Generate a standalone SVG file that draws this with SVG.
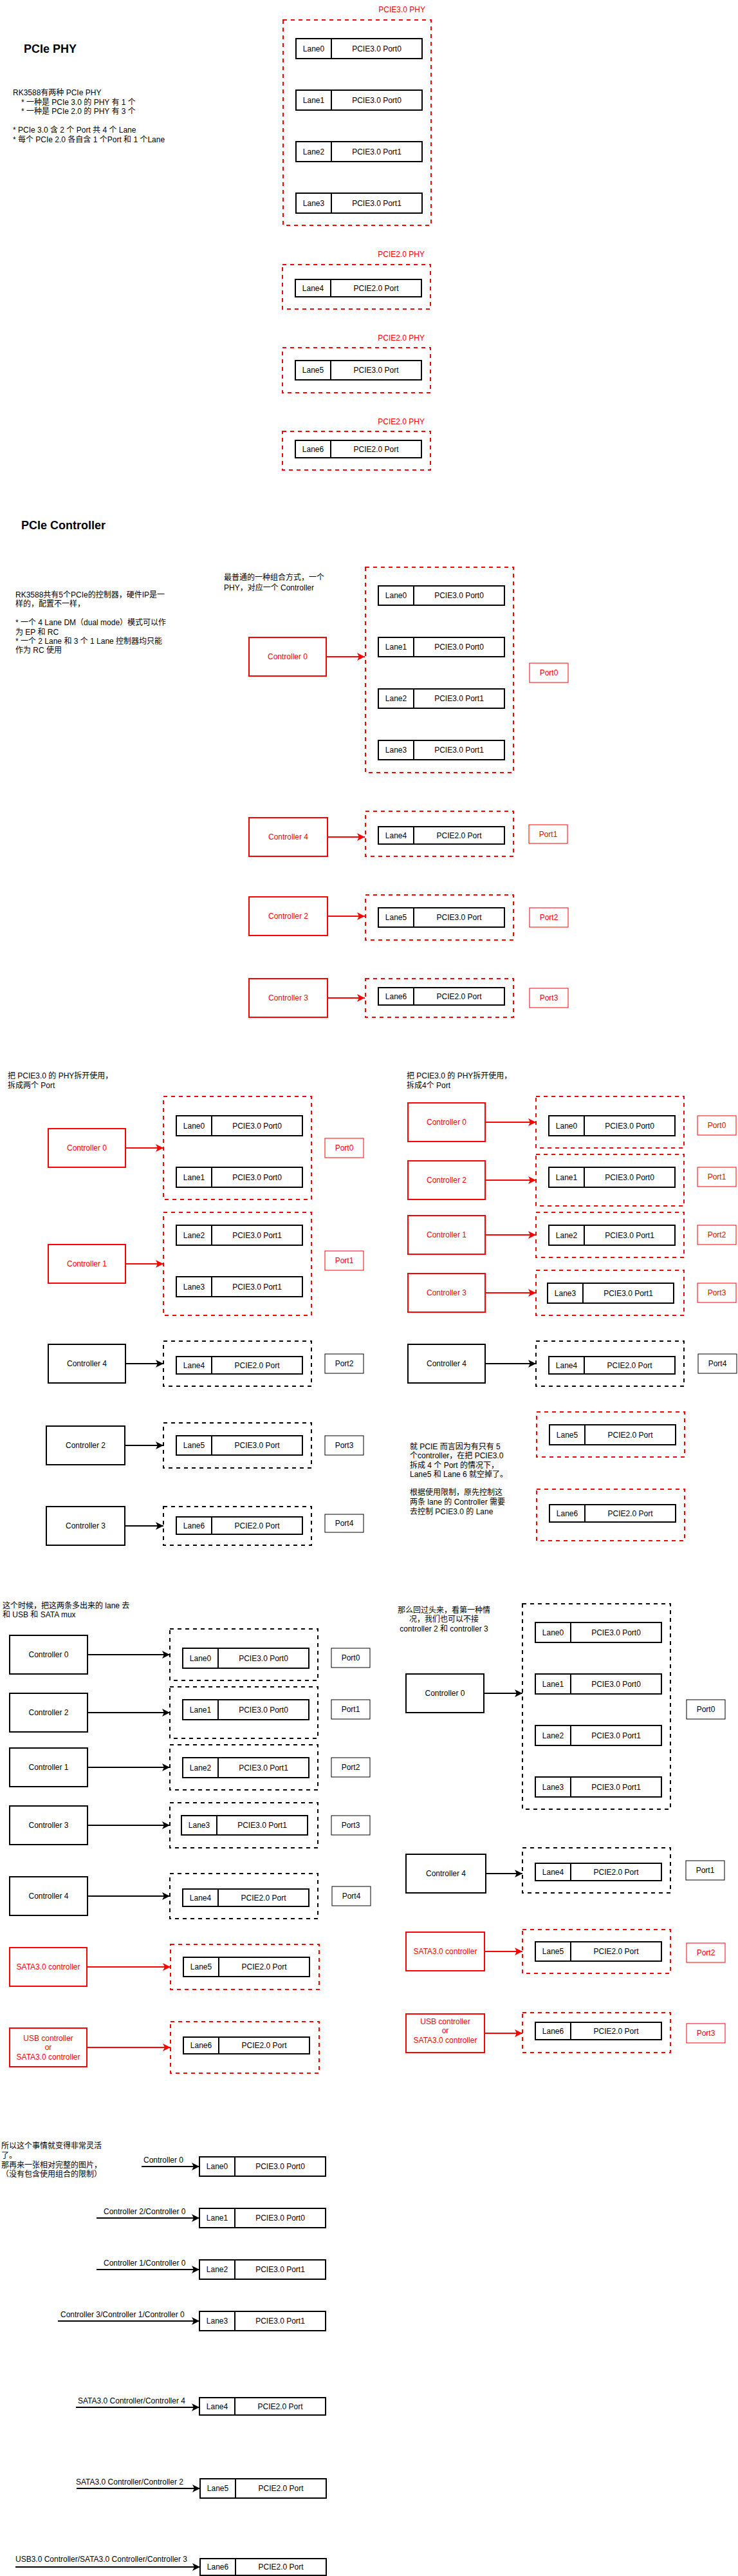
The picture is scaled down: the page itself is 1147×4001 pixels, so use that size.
<svg xmlns="http://www.w3.org/2000/svg" width="1147" height="4001" viewBox="0 0 1147 4001">
<defs>
<style>
.t{font-family:"Liberation Sans","Noto Sans CJK SC",sans-serif;font-size:12px;fill:#000}
.h{font-family:"Liberation Sans","Noto Sans CJK SC",sans-serif;font-size:18px;font-weight:bold;fill:#000}
.c{text-anchor:middle}
.e{text-anchor:end}
.r{fill:#f00}
.lr{fill:#fff;stroke:#000;stroke-width:2}
.ld{stroke:#000;stroke-width:2}
.dr{fill:none;stroke:#f00;stroke-width:2;stroke-dasharray:6 6}
.dk{fill:none;stroke:#000;stroke-width:2;stroke-dasharray:6 6}
.cr{fill:#fff;stroke:#f00;stroke-width:2}
.ck{fill:#fff;stroke:#000;stroke-width:2}
.pr{fill:#fff;stroke:#f00;stroke-width:1}
.pk{fill:#fff;stroke:#000;stroke-width:1}
.ar{fill:none;stroke:#f00;stroke-width:2;marker-end:url(#mr)}
.ak{fill:none;stroke:#000;stroke-width:2;marker-end:url(#mk)}
.hl{fill:#f6f6f6}
</style>
<marker id="mr" markerUnits="userSpaceOnUse" markerWidth="12" markerHeight="12" refX="12" refY="6" orient="auto"><path d="M0,0 L12,6 L0,12 L3,6 Z" fill="#f00"/></marker>
<marker id="mk" markerUnits="userSpaceOnUse" markerWidth="12" markerHeight="12" refX="12" refY="6" orient="auto"><path d="M0,0 L12,6 L0,12 L3,6 Z" fill="#000"/></marker>
</defs>
<rect width="1147" height="4001" fill="#fff"/>

<!-- ============ SECTION 1: PCIe PHY ============ -->
<g id="s1">
<text class="h" x="37" y="82">PCIe PHY</text>
<g id="s1-notes">
<text class="t" x="20" y="148">RK3588有两种 PCIe PHY</text>
<text class="t" x="33" y="162.5">* 一种是 PCIe 3.0 的 PHY 有 1 个</text>
<text class="t" x="33" y="177">* 一种是 PCIe 2.0 的 PHY 有 3 个</text>
<text class="t" x="20" y="206">* PCIe 3.0 含 2 个 Port 共 4 个 Lane</text>
<text class="t" x="20" y="220.5">* 每个 PCIe 2.0 各自含 1 个Port 和 1 个Lane</text>
</g>
<g id="s1-phy30">
<text class="t e r" x="661" y="19">PCIE3.0 PHY</text>
<rect class="dr" x="440" y="31" width="230" height="319"/>
<g id="s1-lane0" transform="translate(460,60)"><rect class="lr" width="196" height="31"/><line class="ld" x1="55" y1="0" x2="55" y2="31"/><text class="t c" x="27.5" y="19.5">Lane0</text><text class="t c" x="125.5" y="19.5">PCIE3.0 Port0</text></g>
<g id="s1-lane1" transform="translate(460,140)"><rect class="lr" width="196" height="31"/><line class="ld" x1="55" y1="0" x2="55" y2="31"/><text class="t c" x="27.5" y="19.5">Lane1</text><text class="t c" x="125.5" y="19.5">PCIE3.0 Port0</text></g>
<g id="s1-lane2" transform="translate(460,220)"><rect class="lr" width="196" height="31"/><line class="ld" x1="55" y1="0" x2="55" y2="31"/><text class="t c" x="27.5" y="19.5">Lane2</text><text class="t c" x="125.5" y="19.5">PCIE3.0 Port1</text></g>
<g id="s1-lane3" transform="translate(460,300)"><rect class="lr" width="196" height="31"/><line class="ld" x1="55" y1="0" x2="55" y2="31"/><text class="t c" x="27.5" y="19.5">Lane3</text><text class="t c" x="125.5" y="19.5">PCIE3.0 Port1</text></g>
</g>
<g id="s1-phy20a">
<text class="t e r" x="660" y="399">PCIE2.0 PHY</text>
<rect class="dr" x="439" y="411" width="230" height="69"/>
<g id="s1-lane4" transform="translate(459,434)"><rect class="lr" width="196" height="27"/><line class="ld" x1="55" y1="0" x2="55" y2="27"/><text class="t c" x="27.5" y="17.5">Lane4</text><text class="t c" x="125.5" y="17.5">PCIE2.0 Port</text></g>
</g>
<g id="s1-phy20b">
<text class="t e r" x="660" y="529">PCIE2.0 PHY</text>
<rect class="dr" x="439" y="540" width="230" height="70"/>
<g id="s1-lane5" transform="translate(459,560)"><rect class="lr" width="196" height="30"/><line class="ld" x1="55" y1="0" x2="55" y2="30"/><text class="t c" x="27.5" y="19">Lane5</text><text class="t c" x="125.5" y="19">PCIE3.0 Port</text></g>
</g>
<g id="s1-phy20c">
<text class="t e r" x="660" y="659">PCIE2.0 PHY</text>
<rect class="dr" x="439" y="670" width="230" height="60"/>
<g id="s1-lane6" transform="translate(459,684)"><rect class="lr" width="196" height="27"/><line class="ld" x1="55" y1="0" x2="55" y2="27"/><text class="t c" x="27.5" y="17.5">Lane6</text><text class="t c" x="125.5" y="17.5">PCIE2.0 Port</text></g>
</g>
</g>

<!-- ============ SECTION 2: PCIe Controller ============ -->
<g id="s2">
<text class="h" x="33" y="822">PCIe Controller</text>
<g id="s2-notes">
<text class="t" x="24" y="928">RK3588共有5个PCIe的控制器，硬件IP是一</text>
<text class="t" x="24" y="942">样的，配置不一样，</text>
<text class="t" x="24" y="971">* 一个 4 Lane DM（dual mode）模式可以作</text>
<text class="t" x="24" y="985.5">为 EP 和 RC</text>
<text class="t" x="24" y="1000">* 一个 2 Lane 和 3 个 1 Lane 控制器均只能</text>
<text class="t" x="24" y="1014">作为 RC 使用</text>
</g>
<g id="s2-caption">
<text class="t" x="348" y="901">最普通的一种组合方式，一个</text>
<text class="t" x="348" y="917">PHY，对应一个 Controller</text>
</g>
<g id="s2-phy30">
<rect class="dr" x="568" y="881" width="230" height="319"/>
<g id="s2-lane0" transform="translate(588,910)"><rect class="lr" width="196" height="30"/><line class="ld" x1="55" y1="0" x2="55" y2="30"/><text class="t c" x="27.5" y="19">Lane0</text><text class="t c" x="125.5" y="19">PCIE3.0 Port0</text></g>
<g id="s2-lane1" transform="translate(588,990)"><rect class="lr" width="196" height="30"/><line class="ld" x1="55" y1="0" x2="55" y2="30"/><text class="t c" x="27.5" y="19">Lane1</text><text class="t c" x="125.5" y="19">PCIE3.0 Port0</text></g>
<g id="s2-lane2" transform="translate(588,1070)"><rect class="lr" width="196" height="30"/><line class="ld" x1="55" y1="0" x2="55" y2="30"/><text class="t c" x="27.5" y="19">Lane2</text><text class="t c" x="125.5" y="19">PCIE3.0 Port1</text></g>
<g id="s2-lane3" transform="translate(588,1150)"><rect class="lr" width="196" height="30"/><line class="ld" x1="55" y1="0" x2="55" y2="30"/><text class="t c" x="27.5" y="19">Lane3</text><text class="t c" x="125.5" y="19">PCIE3.0 Port1</text></g>
</g>
<g id="s2-ctrl0"><rect class="cr" x="387" y="990" width="120" height="60"/><text class="t c r" x="447" y="1024">Controller 0</text></g>
<g id="s2-port0"><rect class="pr" x="823" y="1030" width="60" height="30"/><text class="t c r" x="853" y="1049">Port0</text></g>
<g id="s2-phy20a">
<rect class="dr" x="568" y="1260" width="230" height="70"/>
<g id="s2-lane4" transform="translate(588,1284)"><rect class="lr" width="196" height="27"/><line class="ld" x1="55" y1="0" x2="55" y2="27"/><text class="t c" x="27.5" y="17.5">Lane4</text><text class="t c" x="125.5" y="17.5">PCIE2.0 Port</text></g>
</g>
<g id="s2-ctrl4"><rect class="cr" x="387" y="1270" width="122" height="60"/><text class="t c r" x="448" y="1304">Controller 4</text></g>
<g id="s2-port1"><rect class="pr" x="822" y="1281" width="60" height="29"/><text class="t c r" x="852" y="1299.5">Port1</text></g>
<g id="s2-phy20b">
<rect class="dr" x="568" y="1390" width="230" height="70"/>
<g id="s2-lane5" transform="translate(588,1410)"><rect class="lr" width="196" height="30"/><line class="ld" x1="55" y1="0" x2="55" y2="30"/><text class="t c" x="27.5" y="19">Lane5</text><text class="t c" x="125.5" y="19">PCIE3.0 Port</text></g>
</g>
<g id="s2-ctrl2"><rect class="cr" x="387" y="1393" width="122" height="60"/><text class="t c r" x="448" y="1427">Controller 2</text></g>
<g id="s2-port2"><rect class="pr" x="823" y="1410" width="60" height="30"/><text class="t c r" x="853" y="1429">Port2</text></g>
<g id="s2-phy20c">
<rect class="dr" x="568" y="1520" width="230" height="60"/>
<g id="s2-lane6" transform="translate(588,1534)"><rect class="lr" width="196" height="27"/><line class="ld" x1="55" y1="0" x2="55" y2="27"/><text class="t c" x="27.5" y="17.5">Lane6</text><text class="t c" x="125.5" y="17.5">PCIE2.0 Port</text></g>
</g>
<g id="s2-ctrl3"><rect class="cr" x="387" y="1520" width="122" height="60"/><text class="t c r" x="448" y="1554">Controller 3</text></g>
<g id="s2-port3"><rect class="pr" x="823" y="1535" width="60" height="30"/><text class="t c r" x="853" y="1554">Port3</text></g>
</g>

<!-- ============ SECTION 3 LEFT ============ -->
<g id="s3l">
<g id="s3l-caption">
<text class="t" x="12" y="1675">把 PCIE3.0 的 PHY拆开使用，</text>
<text class="t" x="12" y="1690">拆成两个 Port</text>
</g>
<g id="s3l-boxA">
<rect class="dr" x="254" y="1703" width="230" height="160"/>
<g id="s3l-lane0" transform="translate(274,1733)"><rect class="lr" width="196" height="31"/><line class="ld" x1="55" y1="0" x2="55" y2="31"/><text class="t c" x="27.5" y="19.5">Lane0</text><text class="t c" x="125.5" y="19.5">PCIE3.0 Port0</text></g>
<g id="s3l-lane1" transform="translate(274,1813)"><rect class="lr" width="196" height="31"/><line class="ld" x1="55" y1="0" x2="55" y2="31"/><text class="t c" x="27.5" y="19.5">Lane1</text><text class="t c" x="125.5" y="19.5">PCIE3.0 Port0</text></g>
</g>
<g id="s3l-ctrl0"><rect class="cr" x="75" y="1753" width="120" height="60"/><text class="t c r" x="135" y="1787">Controller 0</text></g>
<g id="s3l-port0"><rect class="pr" x="505" y="1768" width="60" height="30"/><text class="t c r" x="535" y="1787">Port0</text></g>
<g id="s3l-boxB">
<rect class="dr" x="254" y="1883" width="230" height="160"/>
<g id="s3l-lane2" transform="translate(274,1903)"><rect class="lr" width="196" height="31"/><line class="ld" x1="55" y1="0" x2="55" y2="31"/><text class="t c" x="27.5" y="19.5">Lane2</text><text class="t c" x="125.5" y="19.5">PCIE3.0 Port1</text></g>
<g id="s3l-lane3" transform="translate(274,1983)"><rect class="lr" width="196" height="31"/><line class="ld" x1="55" y1="0" x2="55" y2="31"/><text class="t c" x="27.5" y="19.5">Lane3</text><text class="t c" x="125.5" y="19.5">PCIE3.0 Port1</text></g>
</g>
<g id="s3l-ctrl1"><rect class="cr" x="75" y="1933" width="120" height="60"/><text class="t c r" x="135" y="1967">Controller 1</text></g>
<g id="s3l-port1"><rect class="pr" x="505" y="1943" width="60" height="30"/><text class="t c r" x="535" y="1962">Port1</text></g>
<g id="s3l-boxC">
<rect class="dk" x="254" y="2083" width="230" height="70"/>
<g id="s3l-lane4" transform="translate(274,2107)"><rect class="lr" width="196" height="27"/><line class="ld" x1="55" y1="0" x2="55" y2="27"/><text class="t c" x="27.5" y="17.5">Lane4</text><text class="t c" x="125.5" y="17.5">PCIE2.0 Port</text></g>
</g>
<g id="s3l-ctrl4"><rect class="ck" x="75" y="2088" width="120" height="60"/><text class="t c" x="135" y="2122">Controller 4</text></g>
<g id="s3l-port2"><rect class="pk" x="505" y="2103" width="60" height="30"/><text class="t c" x="535" y="2122">Port2</text></g>
<g id="s3l-boxD">
<rect class="dk" x="254" y="2210" width="230" height="70"/>
<g id="s3l-lane5" transform="translate(274,2230)"><rect class="lr" width="196" height="30"/><line class="ld" x1="55" y1="0" x2="55" y2="30"/><text class="t c" x="27.5" y="19">Lane5</text><text class="t c" x="125.5" y="19">PCIE3.0 Port</text></g>
</g>
<g id="s3l-ctrl2"><rect class="ck" x="72" y="2215" width="122" height="60"/><text class="t c" x="133" y="2249">Controller 2</text></g>
<g id="s3l-port3"><rect class="pk" x="505" y="2230" width="60" height="30"/><text class="t c" x="535" y="2249">Port3</text></g>
<g id="s3l-boxE">
<rect class="dk" x="254" y="2340" width="230" height="60"/>
<g id="s3l-lane6" transform="translate(274,2356)"><rect class="lr" width="196" height="27"/><line class="ld" x1="55" y1="0" x2="55" y2="27"/><text class="t c" x="27.5" y="17.5">Lane6</text><text class="t c" x="125.5" y="17.5">PCIE2.0 Port</text></g>
</g>
<g id="s3l-ctrl3"><rect class="ck" x="72" y="2340" width="122" height="60"/><text class="t c" x="133" y="2374">Controller 3</text></g>
<g id="s3l-port4"><rect class="pk" x="505" y="2352" width="60" height="28"/><text class="t c" x="535" y="2370">Port4</text></g>
</g>

<!-- ============ SECTION 3 RIGHT ============ -->
<g id="s3r">
<g id="s3r-caption">
<text class="t" x="632" y="1675">把 PCIE3.0 的 PHY拆开使用，</text>
<text class="t" x="632" y="1690">拆成4个 Port</text>
</g>
<g id="s3r-ctrl0"><rect class="cr" x="634" y="1713" width="120" height="60"/><text class="t c r" x="694" y="1747">Controller 0</text></g>
<g id="s3r-boxA"><rect class="dr" x="833" y="1703" width="230" height="80"/>
<g id="s3r-lane0" transform="translate(853,1733)"><rect class="lr" width="196" height="31"/><line class="ld" x1="55" y1="0" x2="55" y2="31"/><text class="t c" x="27.5" y="19.5">Lane0</text><text class="t c" x="125.5" y="19.5">PCIE3.0 Port0</text></g></g>
<g id="s3r-port0"><rect class="pr" x="1084" y="1733" width="60" height="30"/><text class="t c r" x="1114" y="1752">Port0</text></g>
<g id="s3r-ctrl2"><rect class="cr" x="634" y="1803" width="120" height="60"/><text class="t c r" x="694" y="1837">Controller 2</text></g>
<g id="s3r-boxB"><rect class="dr" x="833" y="1793" width="230" height="80"/>
<g id="s3r-lane1" transform="translate(853,1813)"><rect class="lr" width="196" height="31"/><line class="ld" x1="55" y1="0" x2="55" y2="31"/><text class="t c" x="27.5" y="19.5">Lane1</text><text class="t c" x="125.5" y="19.5">PCIE3.0 Port0</text></g></g>
<g id="s3r-port1"><rect class="pr" x="1084" y="1813" width="60" height="30"/><text class="t c r" x="1114" y="1832">Port1</text></g>
<g id="s3r-ctrl1"><rect class="cr" x="634" y="1888" width="120" height="60"/><text class="t c r" x="694" y="1922">Controller 1</text></g>
<g id="s3r-boxC"><rect class="dr" x="833" y="1883" width="230" height="70"/>
<g id="s3r-lane2" transform="translate(853,1903)"><rect class="lr" width="196" height="31"/><line class="ld" x1="55" y1="0" x2="55" y2="31"/><text class="t c" x="27.5" y="19.5">Lane2</text><text class="t c" x="125.5" y="19.5">PCIE3.0 Port1</text></g></g>
<g id="s3r-port2"><rect class="pr" x="1084" y="1903" width="60" height="30"/><text class="t c r" x="1114" y="1922">Port2</text></g>
<g id="s3r-ctrl3"><rect class="cr" x="634" y="1978" width="120" height="60"/><text class="t c r" x="694" y="2012">Controller 3</text></g>
<g id="s3r-boxD"><rect class="dr" x="833" y="1973" width="230" height="70"/>
<g id="s3r-lane3" transform="translate(851,1993)"><rect class="lr" width="196" height="31"/><line class="ld" x1="55" y1="0" x2="55" y2="31"/><text class="t c" x="27.5" y="19.5">Lane3</text><text class="t c" x="125.5" y="19.5">PCIE3.0 Port1</text></g></g>
<g id="s3r-port3"><rect class="pr" x="1084" y="1993" width="60" height="30"/><text class="t c r" x="1114" y="2012">Port3</text></g>
<g id="s3r-ctrl4"><rect class="ck" x="634" y="2088" width="120" height="60"/><text class="t c" x="694" y="2122">Controller 4</text></g>
<g id="s3r-boxE"><rect class="dk" x="833" y="2083" width="230" height="70"/>
<g id="s3r-lane4" transform="translate(853,2107)"><rect class="lr" width="196" height="27"/><line class="ld" x1="55" y1="0" x2="55" y2="27"/><text class="t c" x="27.5" y="17.5">Lane4</text><text class="t c" x="125.5" y="17.5">PCIE2.0 Port</text></g></g>
<g id="s3r-port4"><rect class="pk" x="1085" y="2103" width="60" height="30"/><text class="t c" x="1115" y="2122">Port4</text></g>
<g id="s3r-boxF"><rect class="dr" x="834" y="2193" width="230" height="70"/>
<g id="s3r-lane5" transform="translate(854,2213)"><rect class="lr" width="196" height="31"/><line class="ld" x1="55" y1="0" x2="55" y2="31"/><text class="t c" x="27.5" y="19.5">Lane5</text><text class="t c" x="125.5" y="19.5">PCIE2.0 Port</text></g></g>
<g id="s3r-boxG"><rect class="dr" x="834" y="2313" width="230" height="80"/>
<g id="s3r-lane6" transform="translate(854,2337)"><rect class="lr" width="196" height="27"/><line class="ld" x1="55" y1="0" x2="55" y2="27"/><text class="t c" x="27.5" y="17.5">Lane6</text><text class="t c" x="125.5" y="17.5">PCIE2.0 Port</text></g></g>
<g id="s3r-note1">
<rect class="hl" x="636" y="2240" width="143" height="14"/>
<rect class="hl" x="636" y="2254" width="147" height="15"/>
<rect class="hl" x="636" y="2269" width="139" height="14"/>
<rect class="hl" x="636" y="2283" width="153" height="15"/>
<text class="t" x="637" y="2251">就 PCIE 而言因为有只有 5</text>
<text class="t" x="637" y="2265.3">个controller，在把 PCIE3.0</text>
<text class="t" x="637" y="2279.6">拆成 4 个 Port 的情况下，</text>
<text class="t" x="637" y="2294">Lane5 和 Lane 6 就空掉了。</text>
</g>
<g id="s3r-note2">
<text class="t" x="637" y="2322">根据使用限制，原先控制这</text>
<text class="t" x="637" y="2337">两条 lane 的 Controller 需要</text>
<text class="t" x="637" y="2352">去控制 PCIE3.0 的 Lane</text>
</g>
</g>

<!-- ============ SECTION 4 LEFT ============ -->
<g id="s4l">
<g id="s4l-caption">
<rect class="hl" x="3" y="2487" width="198" height="14"/>
<text class="t" x="4" y="2498">这个时候，把这两条多出来的 lane 去</text>
<text class="t" x="4" y="2512">和 USB 和 SATA mux</text>
</g>
<g id="s4l-ctrl0"><rect class="ck" x="15" y="2540" width="121" height="60"/><text class="t c" x="75.5" y="2574">Controller 0</text></g>
<g id="s4l-boxA"><rect class="dk" x="264" y="2530" width="230" height="80"/>
<g id="s4l-lane0" transform="translate(284,2560)"><rect class="lr" width="196" height="31"/><line class="ld" x1="55" y1="0" x2="55" y2="31"/><text class="t c" x="27.5" y="19.5">Lane0</text><text class="t c" x="125.5" y="19.5">PCIE3.0 Port0</text></g></g>
<g id="s4l-port0"><rect class="pk" x="515" y="2560" width="60" height="30"/><text class="t c" x="545" y="2579">Port0</text></g>
<g id="s4l-ctrl2"><rect class="ck" x="15" y="2630" width="121" height="60"/><text class="t c" x="75.5" y="2664">Controller 2</text></g>
<g id="s4l-boxB"><rect class="dk" x="264" y="2620" width="230" height="80"/>
<g id="s4l-lane1" transform="translate(284,2640)"><rect class="lr" width="196" height="31"/><line class="ld" x1="55" y1="0" x2="55" y2="31"/><text class="t c" x="27.5" y="19.5">Lane1</text><text class="t c" x="125.5" y="19.5">PCIE3.0 Port0</text></g></g>
<g id="s4l-port1"><rect class="pk" x="515" y="2640" width="60" height="30"/><text class="t c" x="545" y="2659">Port1</text></g>
<g id="s4l-ctrl1"><rect class="ck" x="15" y="2715" width="121" height="60"/><text class="t c" x="75.5" y="2749">Controller 1</text></g>
<g id="s4l-boxC"><rect class="dk" x="264" y="2710" width="230" height="70"/>
<g id="s4l-lane2" transform="translate(284,2730)"><rect class="lr" width="196" height="31"/><line class="ld" x1="55" y1="0" x2="55" y2="31"/><text class="t c" x="27.5" y="19.5">Lane2</text><text class="t c" x="125.5" y="19.5">PCIE3.0 Port1</text></g></g>
<g id="s4l-port2"><rect class="pk" x="515" y="2730" width="60" height="30"/><text class="t c" x="545" y="2749">Port2</text></g>
<g id="s4l-ctrl3"><rect class="ck" x="15" y="2805" width="121" height="60"/><text class="t c" x="75.5" y="2839">Controller 3</text></g>
<g id="s4l-boxD"><rect class="dk" x="264" y="2800" width="230" height="70"/>
<g id="s4l-lane3" transform="translate(282,2820)"><rect class="lr" width="196" height="30"/><line class="ld" x1="55" y1="0" x2="55" y2="30"/><text class="t c" x="27.5" y="19">Lane3</text><text class="t c" x="125.5" y="19">PCIE3.0 Port1</text></g></g>
<g id="s4l-port3"><rect class="pk" x="515" y="2820" width="60" height="30"/><text class="t c" x="545" y="2839">Port3</text></g>
<g id="s4l-ctrl4"><rect class="ck" x="15" y="2915" width="121" height="60"/><text class="t c" x="75.5" y="2949">Controller 4</text></g>
<g id="s4l-boxE"><rect class="dk" x="264" y="2910" width="230" height="70"/>
<g id="s4l-lane4" transform="translate(284,2934)"><rect class="lr" width="196" height="27"/><line class="ld" x1="55" y1="0" x2="55" y2="27"/><text class="t c" x="27.5" y="17.5">Lane4</text><text class="t c" x="125.5" y="17.5">PCIE2.0 Port</text></g></g>
<g id="s4l-port4"><rect class="pk" x="516" y="2930" width="60" height="30"/><text class="t c" x="546" y="2949">Port4</text></g>
<g id="s4l-sata"><rect class="cr" x="15" y="3025" width="120" height="60"/><text class="t c r" x="75" y="3059">SATA3.0 controller</text></g>
<g id="s4l-boxF"><rect class="dr" x="265" y="3020" width="231" height="70"/>
<g id="s4l-lane5" transform="translate(285,3040)"><rect class="lr" width="196" height="30"/><line class="ld" x1="55" y1="0" x2="55" y2="30"/><text class="t c" x="27.5" y="19">Lane5</text><text class="t c" x="125.5" y="19">PCIE2.0 Port</text></g></g>
<g id="s4l-usb"><rect class="cr" x="15" y="3150" width="120" height="60"/><text class="t c r" x="75" y="3170">USB controller</text><text class="t c r" x="75" y="3184">or</text><text class="t c r" x="75" y="3199">SATA3.0 controller</text></g>
<g id="s4l-boxG"><rect class="dr" x="265" y="3140" width="231" height="80"/>
<g id="s4l-lane6" transform="translate(285,3164)"><rect class="lr" width="196" height="26"/><line class="ld" x1="55" y1="0" x2="55" y2="26"/><text class="t c" x="27.5" y="17">Lane6</text><text class="t c" x="125.5" y="17">PCIE2.0 Port</text></g></g>
</g>

<!-- ============ SECTION 4 RIGHT ============ -->
<g id="s4r">
<g id="s4r-caption">
<text class="t c" x="690" y="2505">那么回过头来，看第一种情</text>
<text class="t c" x="690" y="2519">况，我们也可以不接</text>
<text class="t c" x="690" y="2534">controller 2 和 controller 3</text>
</g>
<g id="s4r-phy30"><rect class="dk" x="812" y="2491" width="230" height="319"/>
<g id="s4r-lane0" transform="translate(832,2520)"><rect class="lr" width="196" height="31"/><line class="ld" x1="55" y1="0" x2="55" y2="31"/><text class="t c" x="27.5" y="19.5">Lane0</text><text class="t c" x="125.5" y="19.5">PCIE3.0 Port0</text></g>
<g id="s4r-lane1" transform="translate(832,2600)"><rect class="lr" width="196" height="31"/><line class="ld" x1="55" y1="0" x2="55" y2="31"/><text class="t c" x="27.5" y="19.5">Lane1</text><text class="t c" x="125.5" y="19.5">PCIE3.0 Port0</text></g>
<g id="s4r-lane2" transform="translate(832,2680)"><rect class="lr" width="196" height="31"/><line class="ld" x1="55" y1="0" x2="55" y2="31"/><text class="t c" x="27.5" y="19.5">Lane2</text><text class="t c" x="125.5" y="19.5">PCIE3.0 Port1</text></g>
<g id="s4r-lane3" transform="translate(832,2760)"><rect class="lr" width="196" height="31"/><line class="ld" x1="55" y1="0" x2="55" y2="31"/><text class="t c" x="27.5" y="19.5">Lane3</text><text class="t c" x="125.5" y="19.5">PCIE3.0 Port1</text></g>
</g>
<g id="s4r-ctrl0"><rect class="ck" x="631" y="2600" width="121" height="60"/><text class="t c" x="691.5" y="2634">Controller 0</text></g>
<g id="s4r-port0"><rect class="pk" x="1067" y="2640" width="60" height="30"/><text class="t c" x="1097" y="2659">Port0</text></g>
<g id="s4r-ctrl4"><rect class="ck" x="631" y="2880" width="124" height="60"/><text class="t c" x="693" y="2914">Controller 4</text></g>
<g id="s4r-boxE"><rect class="dk" x="812" y="2870" width="230" height="70"/>
<g id="s4r-lane4" transform="translate(832,2894)"><rect class="lr" width="196" height="27"/><line class="ld" x1="55" y1="0" x2="55" y2="27"/><text class="t c" x="27.5" y="17.5">Lane4</text><text class="t c" x="125.5" y="17.5">PCIE2.0 Port</text></g></g>
<g id="s4r-port1"><rect class="pk" x="1066" y="2890" width="60" height="30"/><text class="t c" x="1096" y="2909">Port1</text></g>
<g id="s4r-sata"><rect class="cr" x="631" y="3001" width="122" height="60"/><text class="t c r" x="692" y="3035">SATA3.0 controller</text></g>
<g id="s4r-boxF"><rect class="dr" x="812" y="2997" width="230" height="68"/>
<g id="s4r-lane5" transform="translate(832,3016)"><rect class="lr" width="196" height="30"/><line class="ld" x1="55" y1="0" x2="55" y2="30"/><text class="t c" x="27.5" y="19">Lane5</text><text class="t c" x="125.5" y="19">PCIE2.0 Port</text></g></g>
<g id="s4r-port2"><rect class="pr" x="1067" y="3018" width="60" height="30"/><text class="t c r" x="1097" y="3037">Port2</text></g>
<g id="s4r-usb"><rect class="cr" x="631" y="3128" width="122" height="60"/><text class="t c r" x="692" y="3144">USB controller</text><text class="t c r" x="692" y="3158">or</text><text class="t c r" x="692" y="3173">SATA3.0 controller</text></g>
<g id="s4r-boxG"><rect class="dr" x="812" y="3126" width="230" height="62"/>
<g id="s4r-lane6" transform="translate(832,3141)"><rect class="lr" width="196" height="27"/><line class="ld" x1="55" y1="0" x2="55" y2="27"/><text class="t c" x="27.5" y="17.5">Lane6</text><text class="t c" x="125.5" y="17.5">PCIE2.0 Port</text></g></g>
<g id="s4r-port3"><rect class="pr" x="1067" y="3143" width="60" height="30"/><text class="t c r" x="1097" y="3162">Port3</text></g>
</g>

<!-- ============ SECTION 5 ============ -->
<g id="s5">
<g id="s5-caption">
<text class="t" x="2" y="3337">所以这个事情就变得非常灵活</text>
<text class="t" x="2" y="3352">了。</text>
<text class="t" x="2" y="3367">那再来一张相对完整的图片，</text>
<text class="t" x="2" y="3381">（没有包含使用组合的限制）</text>
</g>
<g id="s5-lane0" transform="translate(310,3350)"><rect class="lr" width="196" height="30"/><line class="ld" x1="55" y1="0" x2="55" y2="30"/><text class="t c" x="27.5" y="19">Lane0</text><text class="t c" x="125.5" y="19">PCIE3.0 Port0</text></g>
<g id="s5-lane1" transform="translate(310,3430)"><rect class="lr" width="196" height="30"/><line class="ld" x1="55" y1="0" x2="55" y2="30"/><text class="t c" x="27.5" y="19">Lane1</text><text class="t c" x="125.5" y="19">PCIE3.0 Port0</text></g>
<g id="s5-lane2" transform="translate(310,3510)"><rect class="lr" width="196" height="30"/><line class="ld" x1="55" y1="0" x2="55" y2="30"/><text class="t c" x="27.5" y="19">Lane2</text><text class="t c" x="125.5" y="19">PCIE3.0 Port1</text></g>
<g id="s5-lane3" transform="translate(310,3590)"><rect class="lr" width="196" height="30"/><line class="ld" x1="55" y1="0" x2="55" y2="30"/><text class="t c" x="27.5" y="19">Lane3</text><text class="t c" x="125.5" y="19">PCIE3.0 Port1</text></g>
<g id="s5-lane4" transform="translate(310,3724)"><rect class="lr" width="196" height="27"/><line class="ld" x1="55" y1="0" x2="55" y2="27"/><text class="t c" x="27.5" y="17.5">Lane4</text><text class="t c" x="125.5" y="17.5">PCIE2.0 Port</text></g>
<g id="s5-lane5" transform="translate(311,3850)"><rect class="lr" width="196" height="30"/><line class="ld" x1="55" y1="0" x2="55" y2="30"/><text class="t c" x="27.5" y="19">Lane5</text><text class="t c" x="125.5" y="19">PCIE2.0 Port</text></g>
<g id="s5-lane6" transform="translate(311,3974)"><rect class="lr" width="196" height="26"/><line class="ld" x1="55" y1="0" x2="55" y2="26"/><text class="t c" x="27.5" y="17">Lane6</text><text class="t c" x="125.5" y="17">PCIE2.0 Port</text></g>
<g id="s5-labels">
<text class="t" x="223" y="3359">Controller 0</text>
<text class="t" x="161" y="3439">Controller 2/Controller 0</text>
<text class="t" x="161" y="3519">Controller 1/Controller 0</text>
<text class="t" x="94" y="3599">Controller 3/Controller 1/Controller 0</text>
<text class="t" x="121" y="3733">SATA3.0 Controller/Controller 4</text>
<text class="t" x="118" y="3859">SATA3.0 Controller/Controller 2</text>
<text class="t" x="24" y="3979">USB3.0 Controller/SATA3.0 Controller/Controller 3</text>
</g>
</g>

<!-- ============ CONNECTORS ============ -->
<g id="connectors">
<line class="ar" x1="507" y1="1020" x2="567" y2="1020"/>
<line class="ar" x1="509" y1="1300" x2="567" y2="1300"/>
<line class="ar" x1="509" y1="1423" x2="567" y2="1423"/>
<line class="ar" x1="509" y1="1550" x2="567" y2="1550"/>

<line class="ar" x1="195" y1="1783" x2="254" y2="1783"/>
<line class="ar" x1="195" y1="1963" x2="254" y2="1963"/>
<line class="ak" x1="195" y1="2118" x2="254" y2="2118"/>
<line class="ak" x1="194" y1="2245" x2="254" y2="2245"/>
<line class="ak" x1="194" y1="2370" x2="254" y2="2370"/>

<line class="ar" x1="754" y1="1743" x2="833" y2="1743"/>
<line class="ar" x1="754" y1="1833" x2="833" y2="1833"/>
<line class="ar" x1="754" y1="1918" x2="833" y2="1918"/>
<line class="ar" x1="754" y1="2008" x2="833" y2="2008"/>
<line class="ak" x1="754" y1="2118" x2="833" y2="2118"/>

<line class="ak" x1="136" y1="2570" x2="264" y2="2570"/>
<line class="ak" x1="136" y1="2660" x2="264" y2="2660"/>
<line class="ak" x1="136" y1="2745" x2="264" y2="2745"/>
<line class="ak" x1="136" y1="2835" x2="264" y2="2835"/>
<line class="ak" x1="136" y1="2945" x2="264" y2="2945"/>
<line class="ar" x1="135" y1="3055" x2="265" y2="3055"/>
<line class="ar" x1="135" y1="3180" x2="265" y2="3180"/>

<line class="ak" x1="752" y1="2630" x2="812" y2="2630"/>
<line class="ak" x1="755" y1="2910" x2="812" y2="2910"/>
<line class="ar" x1="753" y1="3031" x2="812" y2="3031"/>
<line class="ar" x1="753" y1="3158" x2="812" y2="3158"/>

<line class="ak" x1="220" y1="3365" x2="310" y2="3365"/>
<line class="ak" x1="150" y1="3445" x2="310" y2="3445"/>
<line class="ak" x1="150" y1="3525" x2="310" y2="3525"/>
<line class="ak" x1="90" y1="3605" x2="310" y2="3605"/>
<line class="ak" x1="118" y1="3739" x2="310" y2="3739"/>
<line class="ak" x1="119" y1="3865" x2="311" y2="3865"/>
<line class="ak" x1="24" y1="3987" x2="311" y2="3987"/>
</g>
</svg>
